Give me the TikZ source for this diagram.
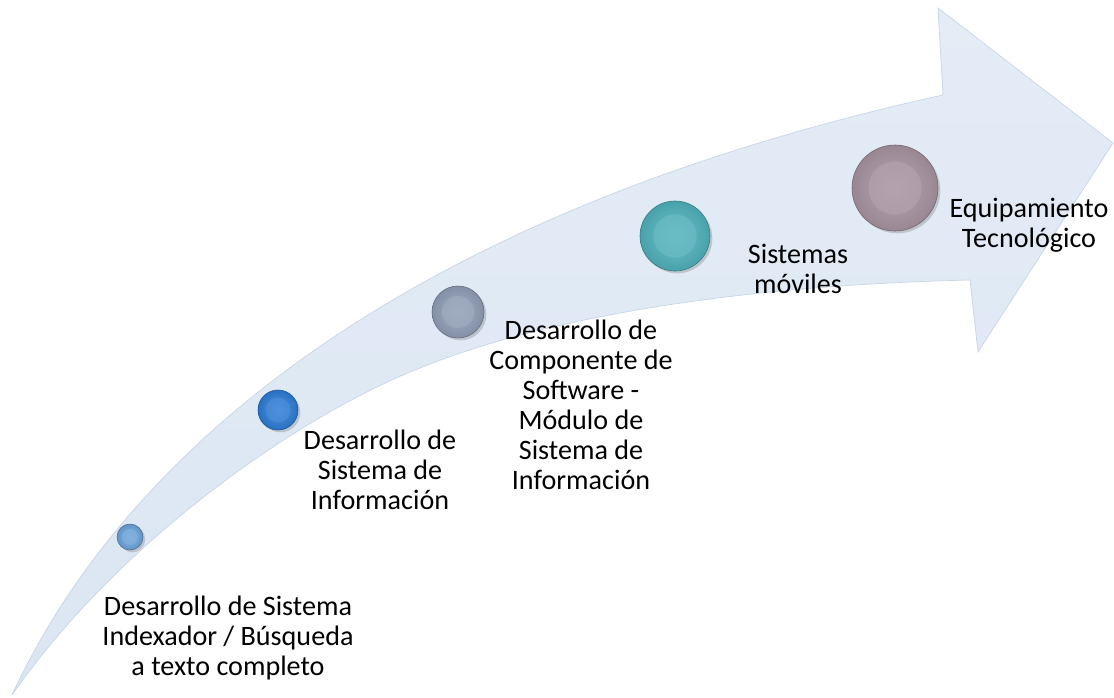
\documentclass[tikz,border=0pt]{standalone}
\usepackage{fontspec}
\setmainfont{Carlito}
\usetikzlibrary{shadows}
\definecolor{arrowfill}{RGB}{219,230,243}
\definecolor{arrowedge}{RGB}{200,213,230}
\definecolor{ballA}{RGB}{104,162,216}
\definecolor{ballB}{RGB}{42,122,212}
\definecolor{ballC}{RGB}{142,156,180}
\definecolor{ballD}{RGB}{78,176,186}
\definecolor{ballE}{RGB}{166,146,160}
\tikzset{
  ball/.style={circle,draw=#1!70!black,line width=0.5pt,inner color=#1!80!white,outer color=#1!92!black,
    drop shadow={shadow xshift=2pt,shadow yshift=-2pt,opacity=0.35}},
  steplabel/.style={align=center,font=\fontsize{24}{25.6}\selectfont,inner sep=0pt}
}
\begin{document}
\begin{tikzpicture}[x=0.03cm,y=-0.03cm]
        \useasboundingbox (0,0) rectangle (1114,698);
        %% Arrow
        \draw[arrowedge,line width=0.6pt,top color=arrowfill!75!white,bottom color=arrowfill]
          (12,695) .. controls (130,440) and (420,210) .. (943,95)
          -- (938,8) -- (1113,143) -- (978,352) -- (970,280)
          .. controls (750,285) and (550,315) .. (420,368)
          .. controls (300,415) and (120,540) .. (12,695) -- cycle;
        %% Balls
        \foreach \n/\x/\y/\r/\c in {c1/130/537/13/ballA,c2/278/410/20/ballB,c3/458/312/26/ballC,c4/675/236/35/ballD,c5/895/188/43/ballE}{
          \node[ball=\c,minimum size={2*\r*0.03cm}] (\n) at (\x,\y) {};
          \fill[\c!85!white,opacity=0.7] (\n.center) circle ({0.62*\r*0.03cm});
        }
        %% Labels
        \node[steplabel] (t1) at (228,638) {Desarrollo de Sistema\\Indexador / Búsqueda\\a texto completo};
        \node[steplabel] (t2) at (380,470) {Desarrollo de\\Sistema de\\Información};
        \node[steplabel] (t3) at (581,405) {Desarrollo de\\Componente de\\Software -\\Módulo de\\Sistema de\\Información};
        \node[steplabel] (t4) at (798,269) {Sistemas\\móviles};
        \node[steplabel] (t5) at (1029,225) {Equipamiento\\Tecnológico};
    \end{tikzpicture}
\end{document}
